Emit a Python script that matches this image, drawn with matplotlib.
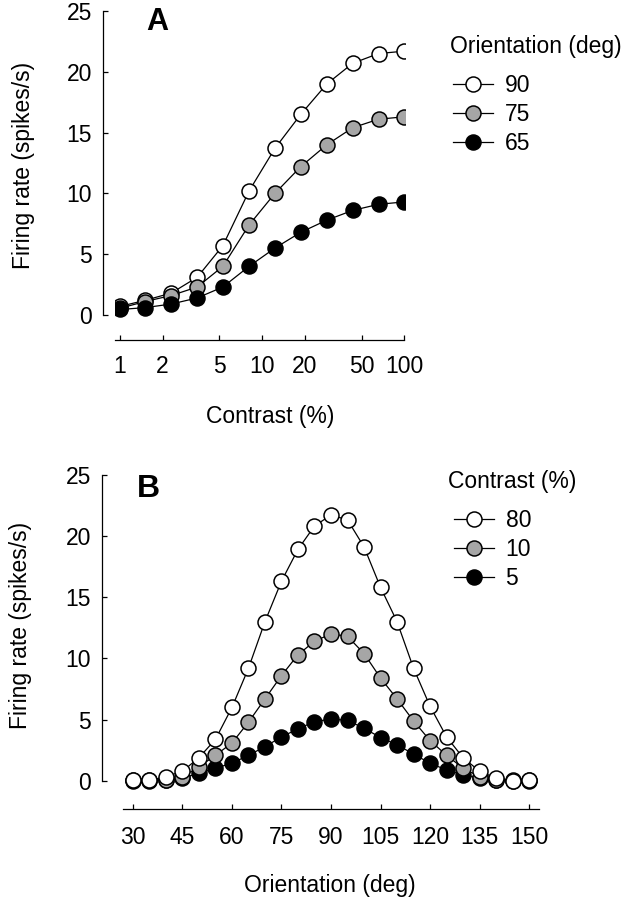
import matplotlib
matplotlib.use("Agg")
import matplotlib.pyplot as plt
from matplotlib.ticker import FixedLocator, NullLocator

plt.rcParams['font.family'] = ['Liberation Sans', 'DejaVu Sans']

# ---------------- data ----------------
contrast = [1, 1.5, 2.3, 3.5, 5.3, 8.1, 12.3, 18.7, 28.5, 43.3, 65.8, 100]
rate_ori90 = [0.7, 1.2, 1.8, 3.1, 5.7, 10.2, 13.7, 16.5, 19.0, 20.7, 21.5, 21.7]
rate_ori75 = [0.55, 1.1, 1.6, 2.3, 4.0, 7.4, 10.0, 12.2, 14.0, 15.4, 16.1, 16.3]
rate_ori65 = [0.45, 0.6, 0.9, 1.4, 2.3, 4.0, 5.5, 6.8, 7.8, 8.6, 9.1, 9.3]
contrast_ticks = [1, 2, 5, 10, 20, 50, 100]
contrast_ticklabels = ['1', '2', '5', '10', '20', '50', '100']

orientation = [30, 35, 40, 45, 50, 55, 60, 65, 70, 75, 80, 85, 90,
               95, 100, 105, 110, 115, 120, 125, 130, 135, 140, 145, 150]
rate_c80 = [0.1, 0.05, 0.35, 0.8, 1.9, 3.4, 6.0, 9.2, 13.0, 16.3, 18.9, 20.8, 21.7,
            21.3, 19.1, 15.8, 13.0, 9.2, 6.1, 3.6, 1.9, 0.8, 0.24, 0.0, 0.05]
rate_c10 = [0.05, 0.05, 0.1, 0.35, 1.15, 2.1, 3.1, 4.8, 6.7, 8.6, 10.3, 11.4, 12.0,
            11.8, 10.4, 8.4, 6.7, 4.9, 3.3, 2.1, 1.05, 0.36, 0.1, 0.05, 0.05]
rate_c5 = [0.0, 0.0, 0.1, 0.25, 0.62, 1.05, 1.45, 2.1, 2.8, 3.6, 4.25, 4.85, 5.05,
           4.95, 4.3, 3.55, 2.95, 2.2, 1.45, 0.9, 0.5, 0.24, 0.05, 0.0, 0.0]
orientation_ticks = [30, 45, 60, 75, 90, 105, 120, 135, 150]
rate_ticks = [0, 5, 10, 15, 20, 25]

# ---------------- style ----------------
FS = 16.5
W, H = 630, 900
fig = plt.figure(figsize=(W / 100, H / 100), dpi=100)

def px_axes(x0, y0, x1, y1):
    return fig.add_axes([x0 / W, 1 - y1 / H, (x1 - x0) / W, (y1 - y0) / H])

def fx(x):
    return x / W

def fy(y):
    return 1 - y / H

mk = dict(marker='o', markersize=10.8, markeredgecolor='black',
          markeredgewidth=1.1, color='black', linewidth=0.9)
GRAY = '#a6a6a6'

def style_axes(ax, left_out_px, bottom_out_px, xpad, ypad):
    for s in ['top', 'right']:
        ax.spines[s].set_visible(False)
    ax.spines['left'].set_position(('outward', left_out_px * 0.72))
    ax.spines['bottom'].set_position(('outward', bottom_out_px * 0.72))
    ax.spines['left'].set_bounds(0, 25)
    ax.spines['left'].set_linewidth(0.9)
    ax.spines['bottom'].set_linewidth(0.9)
    ax.set_yticks(rate_ticks)
    ax.tick_params(axis='both', direction='in', length=3.5, width=0.9,
                   labelsize=FS)
    ax.tick_params(axis='x', pad=xpad)
    ax.tick_params(axis='y', pad=ypad)
    ax.patch.set_alpha(0)

leg_kw = dict(fontsize=FS, loc='upper left', bbox_transform=fig.transFigure,
              frameon=False, handlelength=1.75, handletextpad=0.5,
              labelspacing=0.26, borderpad=0, borderaxespad=0)

# ---------------- panel A ----------------
axA = px_axes(115, 7, 405, 327)
axA.set_xscale('log')
axA.set_xlim(0.925, 101)
axA.set_ylim(-0.99, 25.33)
lA1, = axA.plot(contrast, rate_ori90, markerfacecolor='white', zorder=3, **mk)
lA2, = axA.plot(contrast, rate_ori75, markerfacecolor=GRAY, zorder=4, **mk)
lA3, = axA.plot(contrast, rate_ori65, markerfacecolor='black', zorder=5, **mk)
style_axes(axA, 12, 13, 10.5, 8)
axA.xaxis.set_major_locator(FixedLocator(contrast_ticks))
axA.xaxis.set_minor_locator(NullLocator())
axA.set_xticklabels(contrast_ticklabels)
axA.spines['bottom'].set_bounds(0.925, 100)
axA.set_xlabel('Contrast (%)', fontsize=FS)
axA.xaxis.set_label_coords(fx(270), fy(405), transform=fig.transFigure)
axA.set_ylabel('Firing rate (spikes/s)', fontsize=FS)
axA.yaxis.set_label_coords(fx(35), fy(165), transform=fig.transFigure)
fig.text(fx(146), fy(30), 'A', fontsize=22, fontweight='bold',
         ha='left', va='baseline')
fig.text(fx(450), fy(53), 'Orientation (deg)', fontsize=FS,
         ha='left', va='baseline')
axA.legend([lA1, lA2, lA3], ['90', '75', '65'],
           bbox_to_anchor=(fx(453), fy(74)), **leg_kw)

# ---------------- panel B ----------------
axB = px_axes(123, 470, 539, 795)
axB.set_xlim(27, 153)
axB.set_ylim(-1.14, 25.37)
lB3, = axB.plot(orientation, rate_c5, markerfacecolor='black', zorder=3, **mk)
lB2, = axB.plot(orientation, rate_c10, markerfacecolor=GRAY, zorder=4, **mk)
lB1, = axB.plot(orientation, rate_c80, markerfacecolor='white', zorder=5, **mk)
style_axes(axB, 21, 14, 12, 8)
axB.set_xticks(orientation_ticks)
axB.set_xlabel('Orientation (deg)', fontsize=FS)
axB.xaxis.set_label_coords(fx(330), fy(874), transform=fig.transFigure)
axB.set_ylabel('Firing rate (spikes/s)', fontsize=FS)
axB.yaxis.set_label_coords(fx(32), fy(625), transform=fig.transFigure)
fig.text(fx(137), fy(497), 'B', fontsize=23, fontweight='bold',
         ha='left', va='baseline')
fig.text(fx(448), fy(488), 'Contrast (%)', fontsize=FS,
         ha='left', va='baseline')
axB.legend([lB1, lB2, lB3], ['80', '10', '5'],
           bbox_to_anchor=(fx(454), fy(509)), **leg_kw)

fig.savefig('out.png', dpi=100)
